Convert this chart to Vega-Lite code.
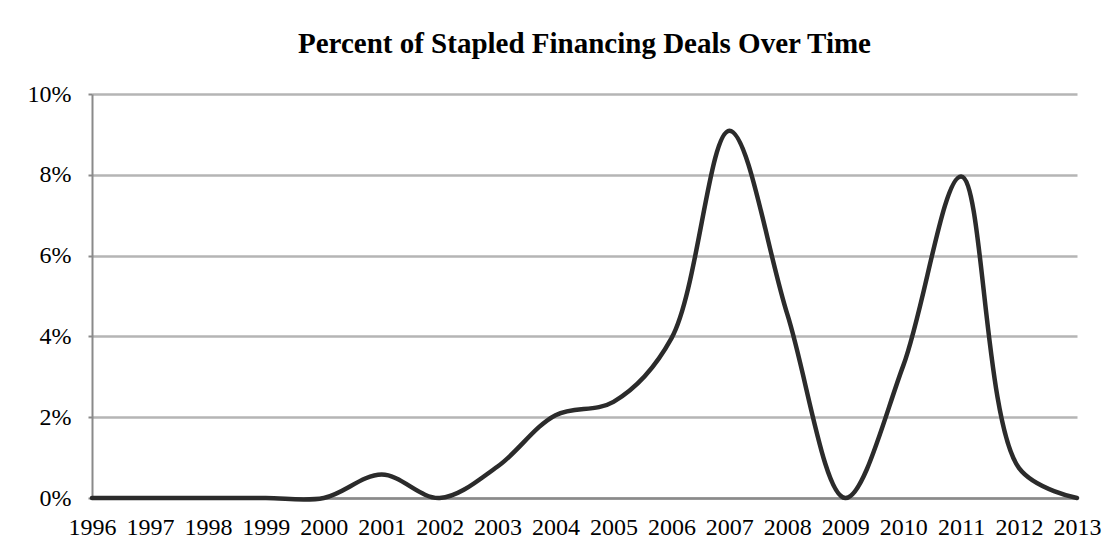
{
  "$schema": "https://vega.github.io/schema/vega-lite/v6.json",
  "width": 985,
  "height": 404,
  "autosize": {"type": "none"},
  "padding": {"left": 92, "top": 94, "right": 37, "bottom": 52},
  "background": "white",
  "title": {
    "text": "Percent of Stapled Financing Deals Over Time",
    "font": "Liberation Serif",
    "fontSize": 29,
    "fontWeight": "bold",
    "color": "#000000",
    "anchor": "middle",
    "baseline": "alphabetic",
    "offset": 0
  },
  "data": {
    "values": [
      {"year": "1996", "pct": 0.0},
      {"year": "1997", "pct": 0.0},
      {"year": "1998", "pct": 0.0},
      {"year": "1999", "pct": 0.0},
      {"year": "2000", "pct": 0.0},
      {"year": "2001", "pct": 0.0058},
      {"year": "2002", "pct": 0.0},
      {"year": "2003", "pct": 0.0078},
      {"year": "2004", "pct": 0.0205},
      {"year": "2005", "pct": 0.0238},
      {"year": "2006", "pct": 0.0395},
      {"year": "2007", "pct": 0.0909},
      {"year": "2008", "pct": 0.0455},
      {"year": "2009", "pct": 0.0},
      {"year": "2010", "pct": 0.0327},
      {"year": "2011", "pct": 0.0796},
      {"year": "2012", "pct": 0.0074},
      {"year": "2013", "pct": 0.0}
    ]
  },
  "mark": {"type": "line", "interpolate": "catmull-rom", "color": "#2b2b2b", "strokeWidth": 4.5, "strokeCap": "round", "clip": false},
  "encoding": {
    "x": {
      "field": "year",
      "type": "ordinal",
      "scale": {"type": "point", "padding": 0},
      "axis": {
        "title": null,
        "labelAngle": 0,
        "labelFont": "Liberation Serif",
        "labelFontSize": 24,
        "labelColor": "#000000",
        "labelPadding": 17,
        "ticks": false,
        "domain": true,
        "domainColor": "#8a8a8a",
        "domainWidth": 2.5,
        "grid": false
      }
    },
    "y": {
      "field": "pct",
      "type": "quantitative",
      "scale": {"domain": [0, 0.1], "nice": false, "zero": true},
      "axis": {
        "title": null,
        "values": [0, 0.02, 0.04, 0.06, 0.08, 0.1],
        "format": ".0%",
        "labelFont": "Liberation Serif",
        "labelFontSize": 24,
        "labelColor": "#000000",
        "labelPadding": 17,
        "ticks": true,
        "tickSize": 4,
        "tickColor": "#8a8a8a",
        "tickWidth": 2,
        "domain": true,
        "domainColor": "#8a8a8a",
        "domainWidth": 2,
        "grid": true,
        "gridColor": "#b5b5b5",
        "gridWidth": 2.5
      }
    }
  },
  "config": {
    "font": "Liberation Serif",
    "axis": {"labelFont": "Liberation Serif"},
    "view": {"stroke": null}
  }
}
